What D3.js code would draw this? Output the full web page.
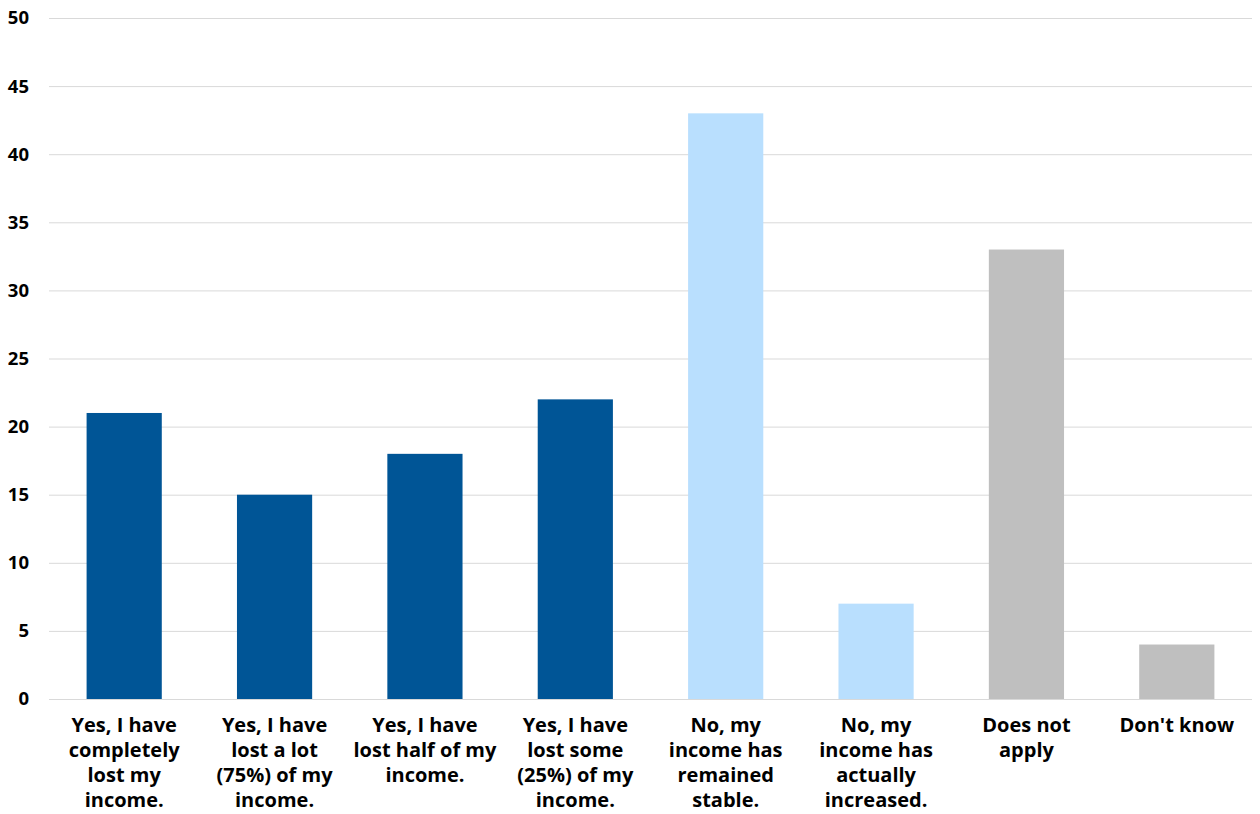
<!DOCTYPE html>
<html>
<head>
<meta charset="utf-8">
<script src="https://cdn.jsdelivr.net/npm/d3@7"></script>
<style>
  html, body { margin: 0; padding: 0; background: #fff; }
  svg { display: block; }
  text { font-family: "Open Sans", "Noto Sans", sans-serif; font-weight: bold; fill: #000; }
</style>
</head>
<body>
<script>
const categories = [
  "Yes, I have\ncompletely\nlost my\nincome.",
  "Yes, I have\nlost a lot\n(75%) of my\nincome.",
  "Yes, I have\nlost half of my\nincome.",
  "Yes, I have\nlost some\n(25%) of my\nincome.",
  "No, my\nincome has\nremained\nstable.",
  "No, my\nincome has\nactually\nincreased.",
  "Does not\napply",
  "Don't know"
];
const values = [21, 15, 18, 22, 43, 7, 33, 4];
const groups = ["yes", "yes", "yes", "yes", "no", "no", "other", "other"];
const yTicks = [0, 5, 10, 15, 20, 25, 30, 35, 40, 45, 50];

const colorByGroup = { yes: "#005596", no: "#B9DFFE", other: "#BFBFBF" };

const W = 1260, H = 814;
const margin = { left: 49, right: 8, top: 18, bottom: 115 };

const svg = d3.select("body").append("svg").attr("width", W).attr("height", H);

const x = d3.scaleBand().domain(d3.range(categories.length))
  .range([margin.left, W - margin.right]).paddingInner(0.5).paddingOuter(0.25);
const y = d3.scaleLinear().domain([0, 50]).range([H - margin.bottom, margin.top]);

// gridlines
svg.append("g").selectAll("line").data(yTicks).join("line")
  .attr("x1", margin.left).attr("x2", W - margin.right)
  .attr("y1", d => y(d) + 0.5).attr("y2", d => y(d) + 0.5)
  .attr("stroke", "#d9d9d9").attr("stroke-width", 1);

// y axis labels
const yAxis = d3.axisLeft(y).tickValues(yTicks).tickSize(0).tickPadding(20);
const yg = svg.append("g").attr("transform", `translate(${margin.left},0)`).call(yAxis);
yg.select(".domain").remove();
yg.selectAll("text").style("font-size", "18.5px").style("font-family", "'Open Sans', sans-serif").style("font-weight", "bold").attr("fill", "#000");

// bars
svg.append("g").selectAll("rect").data(values).join("rect")
  .attr("x", (d, i) => x(i))
  .attr("width", x.bandwidth())
  .attr("y", d => y(d))
  .attr("height", d => y(0) - y(d))
  .attr("fill", (d, i) => colorByGroup[groups[i]]);

// x labels
const xl = svg.append("g");
categories.forEach((c, i) => {
  const t = xl.append("text")
    .attr("text-anchor", "middle")
    .attr("x", x(i) + x.bandwidth() / 2)
    .attr("y", y(0) + 33)
    .style("font-size", "20px");
  c.split("\n").forEach((line, k) => {
    t.append("tspan").attr("x", x(i) + x.bandwidth() / 2).attr("dy", k === 0 ? 0 : 25).text(line);
  });
});
</script>
</body>
</html>
